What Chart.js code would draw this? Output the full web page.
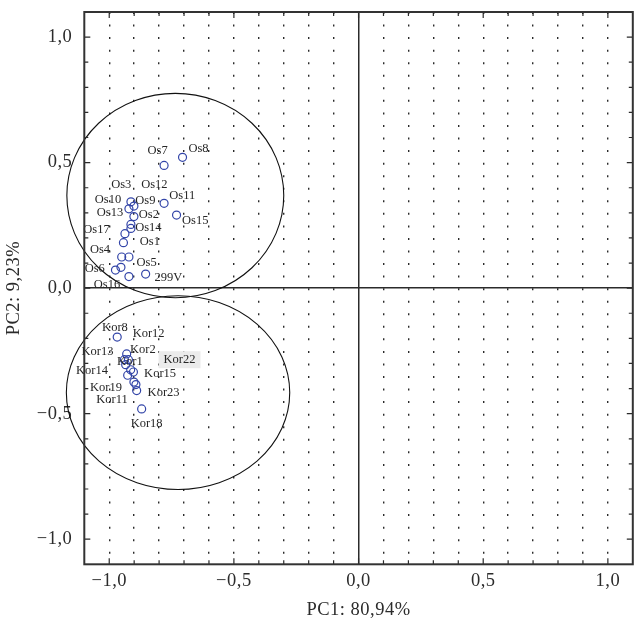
<!DOCTYPE html>
<html><head><meta charset="utf-8">
<script src="https://cdn.jsdelivr.net/npm/chart.js@4/dist/chart.umd.min.js"></script>
<style>html,body{margin:0;padding:0;background:#fff;}canvas{display:block}</style>
</head><body>
<canvas id="c" width="638" height="626"></canvas>
<script>
// ---- Data ----
const osNames = ['Os7','Os8','Os10','Os9','Os13','Os2','Os11','Os15','Os3','Os14','Os17','Os1','Os4','Os12','Os5','Os6','Os16','299V'];
const osX = [-0.780,-0.706,-0.913,-0.901,-0.921,-0.901,-0.780,-0.730,-0.913,-0.913,-0.937,-0.943,-0.950,-0.921,-0.953,-0.975,-0.921,-0.854];
const osY = [0.489,0.521,0.344,0.327,0.316,0.285,0.338,0.291,0.254,0.238,0.217,0.181,0.124,0.124,0.083,0.072,0.046,0.056];
const korNames = ['Kor8','Kor2','Kor13','Kor12','Kor1','Kor22','Kor15','Kor14','Kor19','Kor11','Kor23','Kor18'];
const korX = [-0.968,-0.930,-0.939,-0.923,-0.934,-0.914,-0.903,-0.926,-0.901,-0.893,-0.890,-0.870];
const korY = [-0.195,-0.262,-0.285,-0.285,-0.305,-0.325,-0.334,-0.347,-0.374,-0.384,-0.408,-0.481];

// label anchor positions (data units)
const osLabelX = [-0.806,-0.642,-1.005,-0.855,-0.997,-0.841,-0.707,-0.655,-0.952,-0.843,-1.051,-0.837,-1.037,-0.819,-0.850,-1.058,-1.009,-0.763];
const osLabelY = [0.547,0.554,0.351,0.347,0.300,0.291,0.368,0.269,0.411,0.240,0.234,0.183,0.155,0.411,0.103,0.078,0.012,0.042];
const korLabelX = [-0.977,-0.865,-1.047,-0.842,-0.917,-0.718,-0.796,-1.069,-1.013,-0.989,-0.782,-0.850];
const korLabelY = [-0.156,-0.246,-0.252,-0.183,-0.294,-0.285,-0.342,-0.329,-0.397,-0.444,-0.415,-0.541];
const highlightedLabels = ['Kor22'];

// group ellipses: centre x, centre y, radius x, radius y (data units)
const ellipseCX = [-0.735, -0.724];
const ellipseCY = [0.369, -0.416];
const ellipseRX = [0.435, 0.448];
const ellipseRY = [0.407, 0.386];

const axisMin = -1.1, axisMax = 1.1, axisStep = 0.1;
const tickValues = [-1.0, -0.5, 0.0, 0.5, 1.0];
const tickLabels = ['\u22121,0', '\u22120,5', '0,0', '0,5', '1,0'];
const xTitle = 'PC1: 80,94%';
const yTitle = 'PC2: 9,23%';

// ---- Style ----
const SERIF = '"Liberation Serif", "DejaVu Serif", serif';
const INK = '#2b2b2b';
const POINT = '#3345a8';

function tickLabel(v) {
  for (let i = 0; i < tickValues.length; i++) {
    if (Math.abs(v - tickValues[i]) < 1e-6) return tickLabels[i];
  }
  return '';
}
function isZero(v) { return Math.abs(v) < 1e-6; }

function makeData(xs, ys) { return xs.map((x, i) => ({x: x, y: ys[i]})); }

const spacingPlugin = {
  id: 'axisSpacing',
  beforeDraw(chart) { chart.ctx.letterSpacing = '0.5px'; },
  beforeDatasetsDraw(chart) { chart.ctx.letterSpacing = '0px'; }
};

const ellipsePlugin = {
  id: 'ellipses',
  beforeDatasetsDraw(chart) {
    const {ctx, scales: {x, y}} = chart;
    ctx.save();
    ctx.strokeStyle = '#111';
    ctx.lineWidth = 1.1;
    for (let i = 0; i < ellipseCX.length; i++) {
      const cx = x.getPixelForValue(ellipseCX[i]);
      const cy = y.getPixelForValue(ellipseCY[i]);
      const rx = Math.abs(x.getPixelForValue(ellipseCX[i] + ellipseRX[i]) - cx);
      const ry = Math.abs(y.getPixelForValue(ellipseCY[i] + ellipseRY[i]) - cy);
      ctx.beginPath();
      ctx.ellipse(cx, cy, rx, ry, 0, 0, Math.PI * 2);
      ctx.stroke();
    }
    ctx.restore();
  }
};

const labelPlugin = {
  id: 'pointLabels',
  afterDatasetsDraw(chart) {
    const {ctx, scales: {x, y}} = chart;
    const groups = [[osNames, osLabelX, osLabelY], [korNames, korLabelX, korLabelY]];
    ctx.save();
    ctx.font = '12.5px ' + SERIF;
    ctx.textAlign = 'center';
    ctx.textBaseline = 'middle';
    groups.forEach(([names, lx, ly]) => {
      names.forEach((n, i) => {
        const px = x.getPixelForValue(lx[i]);
        const py = y.getPixelForValue(ly[i]);
        if (highlightedLabels.includes(n)) {
          const w = ctx.measureText(n).width;
          ctx.fillStyle = '#ebebeb';
          ctx.fillRect(px - w / 2 - 5, py - 8.5, w + 10, 17);
        }
        ctx.fillStyle = '#262626';
        ctx.fillText(n, px, py);
      });
    });
    ctx.restore();
  }
};

const framePlugin = {
  id: 'frame',
  afterDraw(chart) {
    const {ctx, chartArea: a, scales: {x, y}} = chart;
    ctx.save();
    ctx.strokeStyle = INK;
    ctx.lineWidth = 1.2;
    ctx.beginPath();
    x.ticks.forEach(t => {
      const px = x.getPixelForValue(t.value);
      if (px <= a.left + 1 || px >= a.right - 1) return;
      const len = tickLabel(t.value) ? 6 : 4;
      ctx.moveTo(px, a.bottom); ctx.lineTo(px, a.bottom - len);
      ctx.moveTo(px, a.top); ctx.lineTo(px, a.top + len);
    });
    y.ticks.forEach(t => {
      const py = y.getPixelForValue(t.value);
      if (py <= a.top + 1 || py >= a.bottom - 1) return;
      const len = tickLabel(t.value) ? 6 : 4;
      ctx.moveTo(a.left, py); ctx.lineTo(a.left + len, py);
      ctx.moveTo(a.right, py); ctx.lineTo(a.right - len, py);
    });
    ctx.stroke();
    ctx.lineWidth = 2;
    ctx.strokeStyle = '#333';
    ctx.strokeRect(a.left, a.top, a.right - a.left, a.bottom - a.top);
    ctx.restore();
  }
};

function dotDash(ctx) {
  if (isZero(ctx.tick ? ctx.tick.value : 1)) return [];
  const a = ctx.chart.chartArea;
  const step = (a.bottom - a.top) / (axisMax - axisMin) * 0.05;
  return [2, step - 2];
}

const axisFont = {family: SERIF, size: 18.5};

new Chart(document.getElementById('c'), {
  type: 'scatter',
  data: {
    datasets: [
      {label: 'Os', data: makeData(osX, osY)},
      {label: 'Kor', data: makeData(korX, korY)}
    ]
  },
  options: {
    responsive: false,
    animation: false,
    devicePixelRatio: 1,
    events: [],
    layout: {padding: {top: 12, right: 4.7, left: 0, bottom: 0}},
    elements: {point: {radius: 4, borderWidth: 1.2, borderColor: POINT, backgroundColor: 'rgba(0,0,0,0)', hoverRadius: 4}},
    plugins: {legend: {display: false}, tooltip: {enabled: false}},
    scales: {
      x: {
        type: 'linear', min: axisMin, max: axisMax,
        afterFit(s) { s.height = 61.7; s.paddingLeft = 0; s.paddingRight = 0; },
        ticks: {stepSize: axisStep, autoSkip: false, maxRotation: 0, padding: 6,
          callback: v => tickLabel(v), color: INK, font: axisFont},
        grid: {drawTicks: false,
          color: c => (c.tick && (Math.abs(c.tick.value) > 1.05)) ? 'rgba(0,0,0,0)' : INK,
          lineWidth: c => isZero(c.tick ? c.tick.value : 1) ? 1.5 : 1.4},
        border: {display: false, dash: dotDash},
        title: {display: true, text: xTitle, color: INK, font: axisFont, padding: {top: 0, bottom: 5}}
      },
      y: {
        type: 'linear', min: axisMin, max: axisMax,
        afterFit(s) { s.width = 84.3; s.paddingTop = 0; s.paddingBottom = 0; },
        ticks: {stepSize: axisStep, autoSkip: false, padding: 12,
          callback: v => tickLabel(v), color: INK, font: axisFont},
        grid: {drawTicks: false,
          color: c => isZero(c.tick ? c.tick.value : 1) ? INK : 'rgba(0,0,0,0)',
          lineWidth: 1.5},
        border: {display: false},
        title: {display: true, text: yTitle, color: INK, font: axisFont, padding: {top: 3, bottom: 0}}
      }
    }
  },
  plugins: [spacingPlugin, ellipsePlugin, labelPlugin, framePlugin]
});
</script>
</body></html>
